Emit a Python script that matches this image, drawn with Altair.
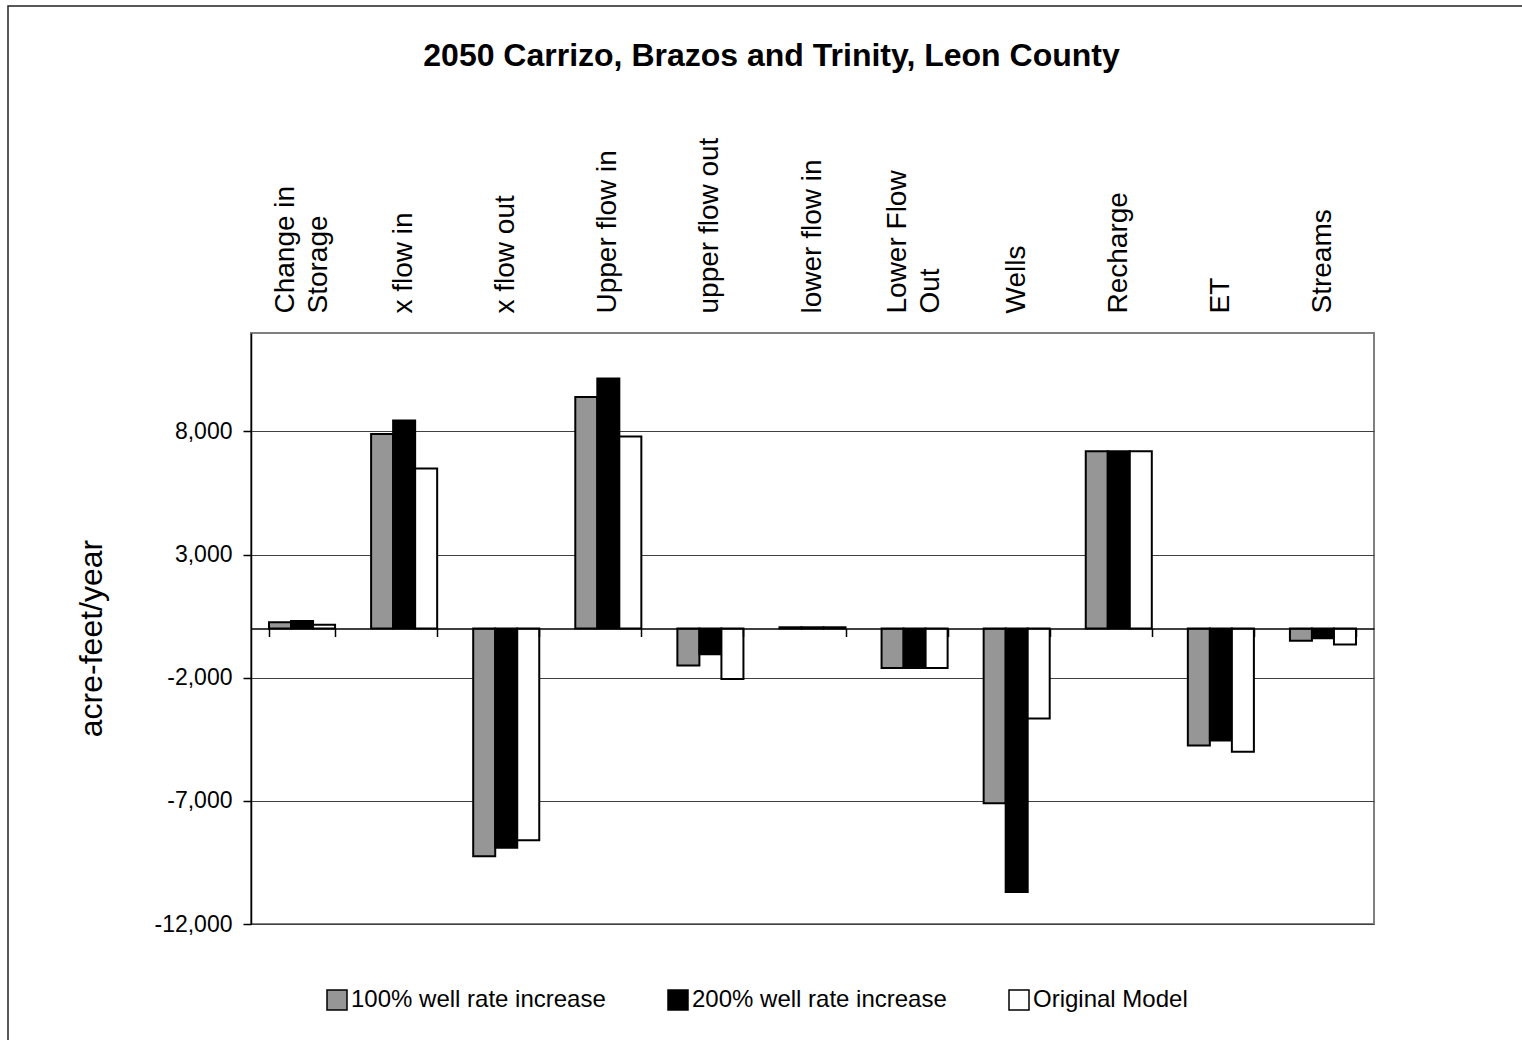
import altair as alt
import pandas as pd

# Water budget terms (acre-feet/year) for three model runs
categories = ["Change in Storage", "x flow in", "x flow out", "Upper flow in",
              "upper flow out", "lower flow in", "Lower Flow Out", "Wells",
              "Recharge", "ET", "Streams"]
series = ["100% well rate increase", "200% well rate increase", "Original Model"]
increase_100 = [250, 7900, -9250, 9400, -1500, 50, -1600, -7100, 7200, -4750, -500]
increase_200 = [300, 8450, -8900, 10150, -1050, 50, -1600, -10700, 7200, -4550, -400]
original_model = [150, 6500, -8600, 7800, -2050, 50, -1600, -3650, 7200, -5000, -650]
series_colors = ["#969696", "#000000", "#ffffff"]
y_ticks = [-12000, -7000, -2000, 3000, 8000]

# Two-line category labels
label_lines = {"Change in Storage": ["Change in", "Storage"],
               "Lower Flow Out": ["Lower Flow", "Out"]}

rows = []
for name, vals in zip(series, [increase_100, increase_200, original_model]):
    for cat, v in zip(categories, vals):
        rows.append({"category": cat, "series": name, "value": v})
df = pd.DataFrame(rows)

label_expr = ""
for k, parts in label_lines.items():
    arr = "[" + ", ".join(f"'{p}'" for p in parts) + "]"
    label_expr += f"datum.label == '{k}' ? {arr} : "
label_expr += "datum.label"
two_line_test = " || ".join(f"datum.value == '{k}'" for k in label_lines)

FONT = "Liberation Sans"
W, H = 1123, 591
LINE_H = 33

x_scale = alt.Scale(paddingInner=0.353, paddingOuter=0.1765)

bars = alt.Chart(df).mark_bar(stroke="black", strokeWidth=2).encode(
    x=alt.X("category:N", sort=categories, scale=x_scale,
            axis=alt.Axis(orient="top", title=None, labelAngle=-90, labelAlign="left",
                          labelBaseline="middle", ticks=False, tickSize=0, domain=False,
                          labelPadding=20, labelFontSize=28, labelLineHeight=LINE_H,
                          labelOffset=alt.condition(two_line_test,
                                                    alt.value(-LINE_H / 2), alt.value(0)),
                          labelExpr=label_expr, labelColor="black", labelFont=FONT,
                          labelLimit=400, grid=False)),
    xOffset=alt.XOffset("series:N", sort=series,
                        scale=alt.Scale(paddingInner=0, paddingOuter=0)),
    y=alt.Y("value:Q", scale=alt.Scale(domain=[-12000, 12000], nice=False, zero=False),
            axis=alt.Axis(values=y_ticks, grid=True, gridColor="#404040", gridWidth=1,
                          domainColor="black", domainWidth=1.5, tickColor="black",
                          tickSize=8, tickWidth=1.5, labelFontSize=23, labelPadding=11,
                          labelColor="black", labelFont=FONT,
                          labelExpr="replace(format(datum.value, ','), '\u2212', '-')",
                          title="acre-feet/year", titleFontSize=32, titleY=305,
                          titleFontWeight="normal", titleFont=FONT, titleColor="black",
                          titlePadding=45)),
    color=alt.Color("series:N", sort=series,
                    scale=alt.Scale(domain=series, range=series_colors),
                    legend=alt.Legend(orient="none", legendX=74, legendY=655,
                                      direction="horizontal", title=None,
                                      symbolType="square", symbolSize=400,
                                      symbolStrokeColor="black", symbolStrokeWidth=1.5,
                                      symbolOpacity=1, labelLimit=500,
                                      labelFontSize=24, labelFont=FONT, labelColor="black",
                                      labelOffset=2, columnPadding=59, padding=0)),
)

# Zero line with category-boundary ticks
zero_axis = alt.Chart(pd.DataFrame({"category": categories})).mark_point(opacity=0).encode(
    x=alt.X("category:N", sort=categories, scale=x_scale,
            axis=alt.Axis(orient="bottom", offset=-H / 2, labels=False, title=None,
                          tickBand="extent", tickSize=8, tickColor="black", tickWidth=1.5,
                          domainColor="black", domainWidth=1.5, grid=False, zindex=1)),
)

# Outer chart frame
frame = alt.Chart(pd.DataFrame({"f": [0]})).mark_rect(
    filled=False, stroke="#222222", strokeWidth=1.5
).encode(
    x=alt.value(-243), x2=alt.value(1300), y=alt.value(-327), y2=alt.value(740)
)

chart = alt.layer(frame, bars, zero_axis).resolve_axis(x="independent").properties(
    width=W, height=H,
    title=alt.Title("2050 Carrizo, Brazos and Trinity, Leon County", fontSize=32,
                    fontWeight="bold", font=FONT, color="black", anchor="middle",
                    frame="group", dx=-41, offset=-68),
    autosize=alt.AutoSizeParams(type="none"),
    padding={"left": 251, "top": 333, "right": 148, "bottom": 116},
    background="white",
).configure_view(stroke="#808080", strokeWidth=2)

chart.save("out.html", embed_options={"renderer": "svg", "actions": False})
